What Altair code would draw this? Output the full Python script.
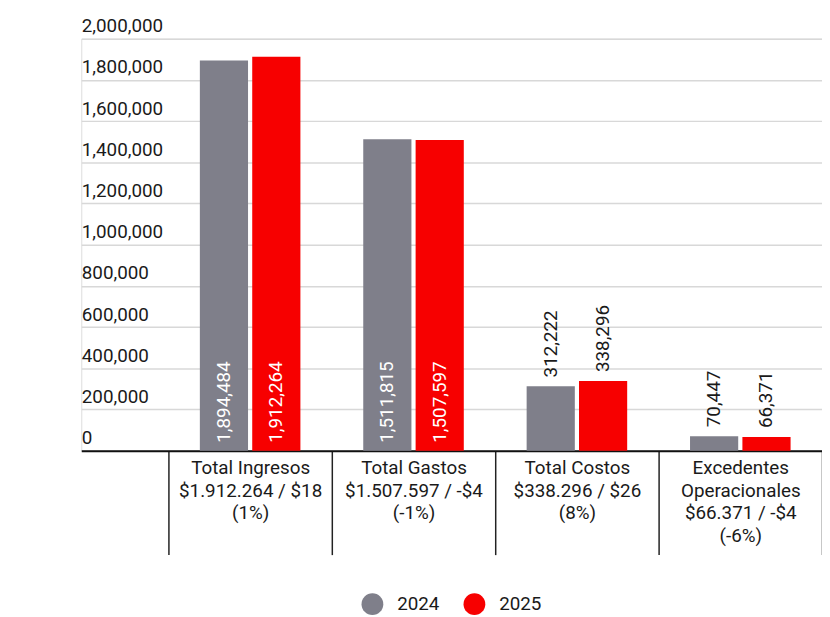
import altair as alt
import pandas as pd

categories = [
    "Total Ingresos|$1.912.264 / $18|(1%)",
    "Total Gastos|$1.507.597 / -$4|(-1%)",
    "Total Costos|$338.296 / $26|(8%)",
    "Excedentes|Operacionales|$66.371 / -$4|(-6%)",
]
years = ["2024", "2025"]
values_2024 = [1894484, 1511815, 312222, 70447]
values_2025 = [1912264, 1507597, 338296, 66371]
y_ticks = [0, 200000, 400000, 600000, 800000, 1000000, 1200000,
           1400000, 1600000, 1800000, 2000000]
colors = ["#7F7F8A", "#F70000"]

rows = []
for c, a, b in zip(categories, values_2024, values_2025):
    rows.append({"cat": c, "year": years[0], "value": a})
    rows.append({"cat": c, "year": years[1], "value": b})
df = pd.DataFrame(rows)

FONT = "Roboto"
TXT = "#1a1a1a"
FS = 19
W, H = 748, 416
TICK = 105

x = alt.X(
    "cat:N", sort=categories, title=None,
    scale=alt.Scale(paddingInner=0, paddingOuter=0.2667, align=1),
    axis=alt.Axis(
        labelExpr="split(datum.label, '|')", labelAngle=0, labelFont=FONT,
        labelFontSize=FS, labelColor=TXT, labelLineHeight=23,
        labelPadding=8 - TICK, labelBaseline="top", labelLimit=300,
        labelOverlap=False, tickBand="extent", tickSize=TICK,
        tickColor="#222", tickWidth=1.5, domainColor="#111", domainWidth=2,
    ),
)
xo = alt.XOffset("year:N", sort=years,
                 scale=alt.Scale(paddingInner=0.08, paddingOuter=0.6))

base = alt.Chart(df)

bars = base.mark_bar().encode(
    x=x, xOffset=xo,
    y=alt.Y(
        "value:Q", scale=alt.Scale(domain=[0, 2000000], nice=False),
        axis=alt.Axis(
            values=y_ticks, format=",d", title=None, orient="left",
            labelAlign="left", labelBaseline="alphabetic", labelPadding=0,
            labelOffset=-7, ticks=False, tickSize=0, domain=False, grid=True,
            gridColor="#D8D8D8", gridWidth=1.5, labelFont=FONT,
            labelFontSize=FS, labelColor=TXT,
        ),
    ),
    color=alt.Color(
        "year:N", sort=years, scale=alt.Scale(domain=years, range=colors),
        legend=alt.Legend(
            orient="none", legendX=283, legendY=560, direction="horizontal",
            title=None, symbolType="circle", symbolSize=484,
            symbolStrokeWidth=0, symbolOpacity=1, labelFont=FONT,
            labelFontSize=FS, labelFontWeight="normal", labelColor=TXT,
            labelOffset=14, columnPadding=24, padding=0,
        ),
    ),
)

inside = base.transform_filter("datum.value > 1000000").mark_text(
    angle=270, align="left", baseline="middle", dx=8, color="white",
    font=FONT, fontSize=FS,
).encode(x=x, xOffset=xo, y=alt.datum(0),
         text=alt.Text("value:Q", format=",d"))

outside = base.transform_filter("datum.value <= 1000000").mark_text(
    angle=270, align="left", baseline="middle", dx=9, color=TXT,
    font=FONT, fontSize=FS,
).encode(x=x, xOffset=xo, y="value:Q",
         text=alt.Text("value:Q", format=",d"))

chart = alt.layer(bars, inside, outside).properties(
    width=W, height=H,
    autosize=alt.AutoSizeParams(type="none"),
    padding={"left": 74, "top": 28, "right": 0, "bottom": 165},
    background="white",
).configure_view(stroke=None).configure(font=FONT)

chart.save("out.html", embed_options={"renderer": "svg", "actions": False})
